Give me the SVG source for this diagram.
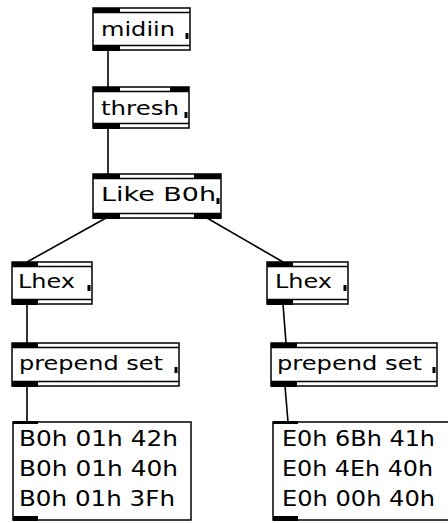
<svg xmlns="http://www.w3.org/2000/svg" width="448" height="523" viewBox="0 0 448 523">
  <style>
    .box { fill: #ffffff; stroke: #000000; stroke-width: 1.5; }
    .rule { stroke: #000000; stroke-width: 1.5; fill: none; }
    .port { fill: #000000; stroke: none; }
    .label { font-family: "DejaVu Sans", "Liberation Sans", sans-serif; font-size: 20px; fill: #000000; }
    .msg { font-family: "DejaVu Sans", "Liberation Sans", sans-serif; font-size: 20.5px; fill: #000000; }
    .wire { stroke: #000000; stroke-width: 1.6; fill: none; }
  </style>
  <rect width="448" height="523" fill="#ffffff"/>

  <!-- patch cords -->
  <g id="connectors">
    <line class="wire" x1="108" y1="50" x2="108" y2="87"/>
    <line class="wire" x1="108" y1="128" x2="108" y2="174"/>
    <line class="wire" x1="106" y1="218" x2="27" y2="262"/>
    <line class="wire" x1="207" y1="218" x2="283" y2="262"/>
    <line class="wire" x1="27" y1="304" x2="27" y2="343"/>
    <line class="wire" x1="27" y1="386" x2="27" y2="422"/>
    <line class="wire" x1="283" y1="304" x2="286" y2="343"/>
    <line class="wire" x1="285" y1="386" x2="288" y2="422"/>
  </g>

  <!-- midiin -->
  <g id="midiin">
    <rect class="box" x="93" y="8" width="97" height="42"/>
    <line class="rule" x1="93" y1="12.5" x2="190" y2="12.5"/>
    <line class="rule" x1="93" y1="45.5" x2="190" y2="45.5"/>
    <rect class="port" x="93" y="8" width="27" height="5"/>
    <rect class="port" x="93" y="45" width="27" height="6"/>
    <rect class="port" x="185.5" y="33" width="3" height="6"/>
    <text class="label" x="101" y="36" textLength="74" lengthAdjust="spacingAndGlyphs">midiin</text>
  </g>

  <!-- thresh -->
  <g id="thresh">
    <rect class="box" x="93" y="87" width="96" height="41"/>
    <line class="rule" x1="93" y1="91.5" x2="189" y2="91.5"/>
    <line class="rule" x1="93" y1="123.5" x2="189" y2="123.5"/>
    <rect class="port" x="93" y="87" width="27" height="5"/>
    <rect class="port" x="170" y="87" width="19" height="5"/>
    <rect class="port" x="93" y="123" width="27" height="6"/>
    <rect class="port" x="184.5" y="112" width="3" height="6"/>
    <text class="label" x="101" y="115" textLength="78" lengthAdjust="spacingAndGlyphs">thresh</text>
  </g>

  <!-- Like B0h -->
  <g id="like">
    <rect class="box" x="93" y="174" width="128" height="44"/>
    <line class="rule" x1="93" y1="178.5" x2="221" y2="178.5"/>
    <line class="rule" x1="93" y1="213.5" x2="221" y2="213.5"/>
    <rect class="port" x="93" y="174" width="27" height="5"/>
    <rect class="port" x="194" y="174" width="27" height="5"/>
    <rect class="port" x="93" y="213" width="27" height="6"/>
    <rect class="port" x="194" y="213" width="27" height="6"/>
    <rect class="port" x="216.5" y="198" width="3" height="6"/>
    <text class="label" x="101" y="201" textLength="115" lengthAdjust="spacingAndGlyphs">Like B0h</text>
  </g>

  <!-- Lhex, left branch -->
  <g id="lhex-left">
    <rect class="box" x="12" y="262" width="80" height="42"/>
    <line class="rule" x1="12" y1="266.5" x2="92" y2="266.5"/>
    <line class="rule" x1="12" y1="299.5" x2="92" y2="299.5"/>
    <rect class="port" x="12" y="262" width="26" height="5"/>
    <rect class="port" x="12" y="299" width="26" height="6"/>
    <rect class="port" x="87.5" y="285" width="3" height="6"/>
    <text class="label" x="18" y="288" textLength="57" lengthAdjust="spacingAndGlyphs">Lhex</text>
  </g>

  <!-- Lhex, right branch -->
  <g id="lhex-right">
    <rect class="box" x="267" y="262" width="81" height="42"/>
    <line class="rule" x1="267" y1="266.5" x2="348" y2="266.5"/>
    <line class="rule" x1="267" y1="299.5" x2="348" y2="299.5"/>
    <rect class="port" x="267" y="262" width="26" height="5"/>
    <rect class="port" x="267" y="299" width="26" height="6"/>
    <rect class="port" x="343.5" y="285" width="3" height="6"/>
    <text class="label" x="275" y="288" textLength="57" lengthAdjust="spacingAndGlyphs">Lhex</text>
  </g>

  <!-- prepend set, left branch -->
  <g id="prepend-left">
    <rect class="box" x="12" y="343" width="167" height="43"/>
    <line class="rule" x1="12" y1="347.5" x2="179" y2="347.5"/>
    <line class="rule" x1="12" y1="381.5" x2="179" y2="381.5"/>
    <rect class="port" x="12" y="343" width="26" height="5"/>
    <rect class="port" x="12" y="381" width="26" height="6"/>
    <rect class="port" x="174.5" y="367" width="3" height="6"/>
    <text class="label" x="19" y="370" textLength="144" lengthAdjust="spacingAndGlyphs">prepend set</text>
  </g>

  <!-- prepend set, right branch -->
  <g id="prepend-right">
    <rect class="box" x="271" y="343" width="166" height="43"/>
    <line class="rule" x1="271" y1="347.5" x2="437" y2="347.5"/>
    <line class="rule" x1="271" y1="381.5" x2="437" y2="381.5"/>
    <rect class="port" x="271" y="343" width="26" height="5"/>
    <rect class="port" x="271" y="381" width="26" height="6"/>
    <rect class="port" x="432.5" y="367" width="3" height="6"/>
    <text class="label" x="277" y="370" textLength="145" lengthAdjust="spacingAndGlyphs">prepend set</text>
  </g>

  <!-- message box, left branch -->
  <g id="message-left">
    <rect class="box" x="13" y="422" width="178" height="98"/>
    <rect class="port" x="13" y="421" width="25" height="3"/>
    <rect class="port" x="13" y="516" width="25" height="5"/>
    <text class="msg" x="19" y="446" textLength="159" lengthAdjust="spacingAndGlyphs">B0h 01h 42h</text>
    <text class="msg" x="19" y="476" textLength="159" lengthAdjust="spacingAndGlyphs">B0h 01h 40h</text>
    <text class="msg" x="19" y="506" textLength="156" lengthAdjust="spacingAndGlyphs">B0h 01h 3Fh</text>
  </g>

  <!-- message box, right branch -->
  <g id="message-right">
    <rect class="box" x="273" y="422" width="182" height="98"/>
    <rect class="port" x="273" y="421" width="25" height="3"/>
    <rect class="port" x="273" y="516" width="25" height="5"/>
    <text class="msg" x="282" y="446" textLength="153" lengthAdjust="spacingAndGlyphs">E0h 6Bh 41h</text>
    <text class="msg" x="282" y="476" textLength="151" lengthAdjust="spacingAndGlyphs">E0h 4Eh 40h</text>
    <text class="msg" x="282" y="506" textLength="153" lengthAdjust="spacingAndGlyphs">E0h 00h 40h</text>
  </g>
</svg>
